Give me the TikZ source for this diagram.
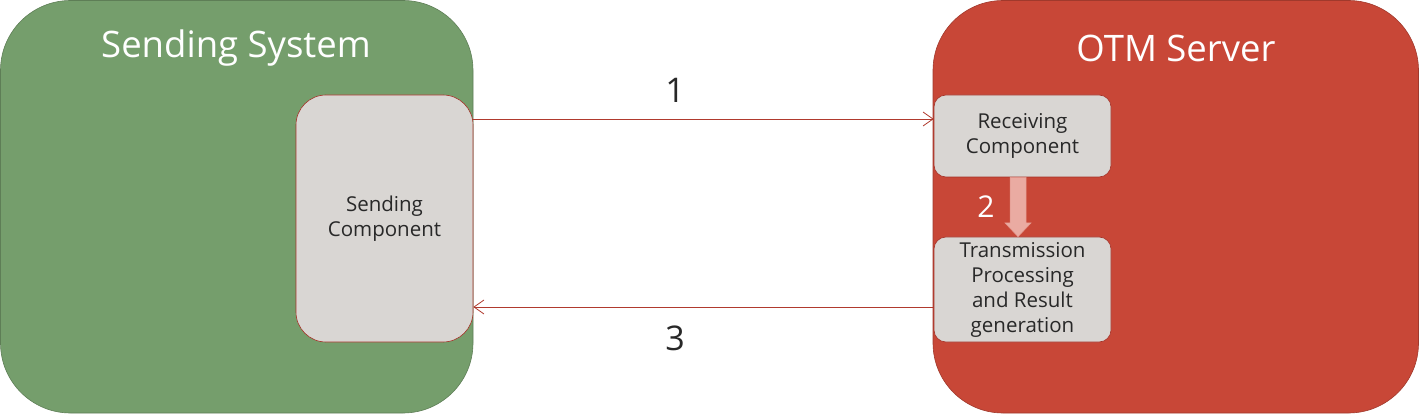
\documentclass[tikz,border=0pt]{standalone}
\usepackage{fontspec}
\setmainfont{Open Sans}
\usetikzlibrary{arrows.meta,shapes.arrows}
\definecolor{sysgreen}{RGB}{117,158,108}
\definecolor{sysred}{RGB}{200,71,55}
\definecolor{compfill}{RGB}{217,214,211}
\definecolor{compborder}{RGB}{165,50,40}
\definecolor{linkred}{RGB}{176,58,46}
\definecolor{pinkarrow}{RGB}{234,171,162}
\definecolor{txt}{RGB}{40,40,40}
\tikzset{
  sysbox/.style={rounded corners=70pt, draw=#1!80!black, line width=0.6pt},
  compbox/.style={fill=compfill, draw=compborder, line width=0.6pt, align=center,
    text=txt, font=\fontsize{20.5}{25}\selectfont, inner sep=0pt},
  link/.style={draw=linkred, line width=0.8pt, -{Straight Barb[length=10pt,width=14pt,line width=0.8pt]}},
  steplabel/.style={font=\fontsize{34}{40}\selectfont, text=txt},
}
\begin{document}
\begin{tikzpicture}[x=1pt,y=-1pt]
\useasboundingbox (0,0) rectangle (1419,414);
% outer systems
\draw[sysbox=sysgreen, fill=sysgreen] (0.5,0.5) rectangle (473,413);
\draw[sysbox=sysred, fill=sysred] (933,0.5) rectangle (1418.5,413);
\node[text=white, font=\fontsize{36.5}{44}\selectfont] (sstitle) at (236,48) {Sending System};
\node[text=white, font=\fontsize{36.5}{44}\selectfont] (otmtitle) at (1176,48) {OTM Server};
% components
\node[compbox, rounded corners=30pt, minimum width=177pt, minimum height=247pt] (send) at (384.5,218.5) {Sending\\Component};
\node[compbox, rounded corners=12pt, minimum width=177pt, minimum height=82pt] (recv) at (1022.5,136) {Receiving\\Component};
\node[compbox, rounded corners=12pt, minimum width=177pt, minimum height=105pt] (trans) at (1022.5,289.5) {Transmission\\Processing\\and Result\\generation};
% connectors
\coordinate (s1) at (send.east |- 0,119);
\coordinate (r1) at (recv.west |- 0,119);
\draw[link] (s1) -- (r1);
\coordinate (t3) at (trans.west |- 0,307);
\coordinate (s3) at (send.east |- 0,307);
\draw[link] (t3) -- (s3);
\node[steplabel] (l1) at (675,90) {1};
\node[steplabel] (l3) at (675,338) {3};
% arrow 2
\draw[fill=pinkarrow, draw=pinkarrow!80!sysred, line width=0.5pt]
  (recv.south -| 1010,0) -- (1010,223) -- (1005,223) -- (trans.north -| 1018,0) -- (1031,223) -- (1026,223) -- (recv.south -| 1026,0) -- cycle;
\node[text=white, font=\fontsize{30}{36}\selectfont] (l2) at (986,207) {2};
\end{tikzpicture}
\end{document}
